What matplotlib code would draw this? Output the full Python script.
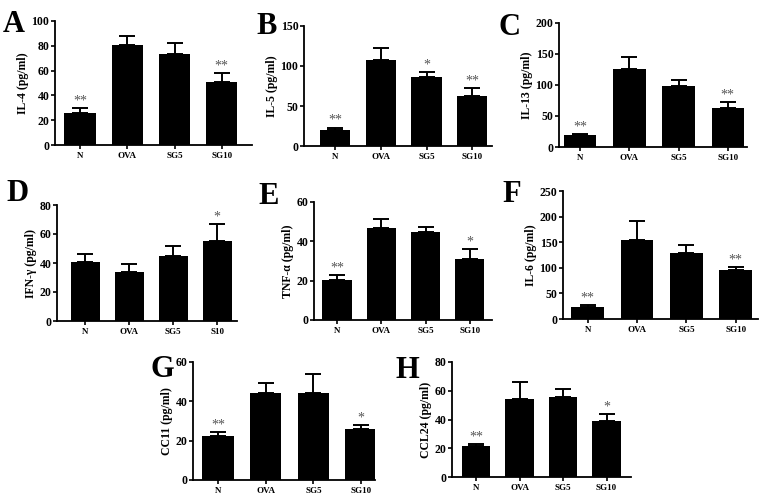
import matplotlib
matplotlib.use("Agg")
import matplotlib.pyplot as plt

plt.rcParams['font.family'] = ['Liberation Serif', 'DejaVu Serif']
plt.rcParams['font.weight'] = 'bold'

W, H = 769, 499

# ---- data ----
groups = ["N", "OVA", "SG5", "SG10"]
groups_D = ["N", "OVA", "SG5", "S10"]

il4 = [26, 81, 73, 51]
il4_err = [4, 7, 9, 7]
il4_sig = ["**", "", "", "**"]

il5 = [20, 107, 86, 63]
il5_err = [3, 16, 6, 9]
il5_sig = ["**", "", "*", "**"]

il13 = [19, 125, 98, 63]
il13_err = [2, 20, 10, 10]
il13_sig = ["**", "", "", "**"]

ifng = [41, 34, 45, 55]
ifng_err = [5, 5, 7, 12]
ifng_sig = ["", "", "", "*"]

tnfa = [20.5, 47, 44.5, 31]
tnfa_err = [2.5, 4.5, 3, 5]
tnfa_sig = ["**", "", "", "*"]

il6 = [24, 155, 128, 96]
il6_err = [3, 36, 17, 5]
il6_sig = ["**", "", "", "**"]

cc11 = [22.5, 44, 44, 26]
cc11_err = [2, 5.5, 10, 2]
cc11_sig = ["**", "", "", "*"]

ccl24 = [21.5, 54, 55.5, 39]
ccl24_err = [1.5, 12, 6, 5]
ccl24_sig = ["**", "", "", "*"]

# panel: letter, ylabel, values, errs, sig, cats, ymax, yticks,
# axis pixel box (x_axis, x_end, y_top, y_zero), xlim, letter pos
panels = [
    ("A", "IL-4 (pg/ml)", il4, il4_err, il4_sig, groups, 100, [0, 20, 40, 60, 80, 100],
     (55, 252, 21, 145), (-0.53, 3.64), (3, 32)),
    ("B", "IL-5 (pg/ml)", il5, il5_err, il5_sig, groups, 150, [0, 50, 100, 150],
     (304, 492, 26, 146), (-0.68, 3.43), (256, 34)),
    ("C", "IL-13 (pg/ml)", il13, il13_err, il13_sig, groups, 200, [0, 50, 100, 150, 200],
     (559, 747, 23, 147), (-0.43, 3.39), (499, 35)),
    ("D", "IFN-γ (pg/ml)", ifng, ifng_err, ifng_sig, groups_D, 80, [0, 20, 40, 60, 80],
     (57, 237, 205, 321), (-0.64, 3.45), (6, 201)),
    ("E", "TNF-α (pg/ml)", tnfa, tnfa_err, tnfa_sig, groups, 60, [0, 20, 40, 60],
     (314, 492, 202, 320), (-0.52, 3.5), (258, 204)),
    ("F", "IL-6 (pg/ml)", il6, il6_err, il6_sig, groups, 250, [0, 50, 100, 150, 200, 250],
     (563, 758, 191, 319), (-0.5, 3.45), (502, 202)),
    ("G", "CC11 (pg/ml)", cc11, cc11_err, cc11_sig, groups, 60, [0, 20, 40, 60],
     (193, 375, 362, 480), (-0.52, 3.29), (151, 377)),
    ("H", "CCL24 (pg/ml)", ccl24, ccl24_err, ccl24_sig, groups, 80, [0, 20, 40, 60, 80],
     (452, 631, 362, 477), (-0.55, 3.56), (396, 378)),
]

fig = plt.figure(figsize=(W / 100, H / 100), dpi=100)
fig.patch.set_facecolor("white")

for letter, ylab, vals, errs, sig, cats, ymax, yticks, box, xlim, lpos in panels:
    x0, x1, yt, yz = box
    ax = fig.add_axes([x0 / W, 1 - yz / H, (x1 - x0) / W, (yz - yt) / H])
    xs = list(range(len(vals)))
    ax.bar(xs, vals, width=0.66, color="black", zorder=2)
    ax.errorbar(xs, vals, yerr=[[0] * len(errs), errs], fmt="none", ecolor="black",
                elinewidth=1.4, capsize=6, capthick=1.4, zorder=3)
    for x, v, e, s in zip(xs, vals, errs, sig):
        if s:
            ax.text(x, v + e + ymax * 0.005, s, ha="center", va="bottom",
                    fontsize=10, color="#555555", fontweight="normal")
    ax.set_xlim(*xlim)
    ax.set_ylim(0, ymax)
    ax.set_yticks(yticks)
    ax.set_xticks(xs)
    ax.set_xticklabels(cats, fontsize=6.5, fontweight="bold")
    ax.tick_params(axis="y", labelsize=8.5, length=3, width=1.2, pad=1)
    ax.tick_params(axis="x", length=3, width=1.2, pad=2)
    for lbl in ax.get_yticklabels():
        lbl.set_fontweight("bold")
    ax.set_ylabel(ylab, fontsize=8.5, fontweight="bold", labelpad=2)
    for sp in ["top", "right"]:
        ax.spines[sp].set_visible(False)
    for sp in ["left", "bottom"]:
        ax.spines[sp].set_linewidth(1.3)
    ax.set_facecolor("none")
    fig.text(lpos[0] / W, 1 - lpos[1] / H, letter, fontsize=22, fontweight="bold",
             ha="left", va="baseline")

fig.savefig("out.png", dpi=100, facecolor="white")
